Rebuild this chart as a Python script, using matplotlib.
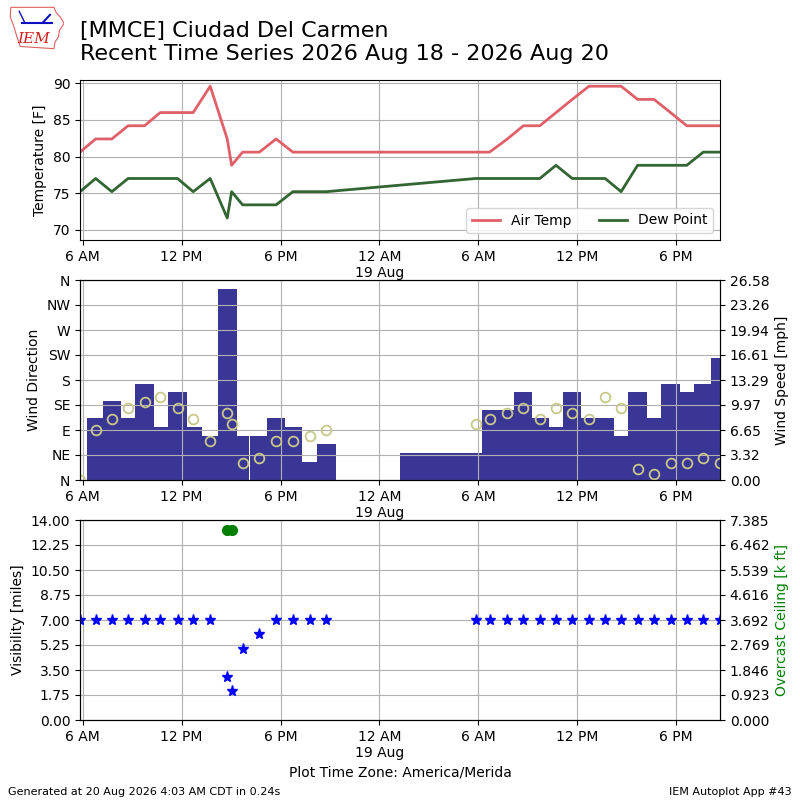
import numpy as np
import pandas as pd
import matplotlib
matplotlib.use("Agg")
import matplotlib.pyplot as plt
import matplotlib.dates as mdates
from matplotlib.patches import Polygon
from matplotlib.ticker import FuncFormatter, FormatStrFormatter

# observation times, local time America/Merida
valid = pd.to_datetime([
    "2026-08-18 05:50", "2026-08-18 06:47", "2026-08-18 07:46", "2026-08-18 08:45",
    "2026-08-18 09:45", "2026-08-18 10:42", "2026-08-18 11:45", "2026-08-18 12:42",
    "2026-08-18 13:44", "2026-08-18 14:46", "2026-08-18 15:02", "2026-08-18 15:42",
    "2026-08-18 16:43", "2026-08-18 17:44", "2026-08-18 18:45", "2026-08-18 19:46",
    "2026-08-18 20:47",
    "2026-08-19 05:50", "2026-08-19 06:41", "2026-08-19 07:46", "2026-08-19 08:44",
    "2026-08-19 09:44", "2026-08-19 10:43", "2026-08-19 11:42", "2026-08-19 12:43",
    "2026-08-19 13:42", "2026-08-19 14:40", "2026-08-19 15:40", "2026-08-19 16:40",
    "2026-08-19 17:40", "2026-08-19 18:39", "2026-08-19 19:39", "2026-08-19 20:40",
])
tmpf = [80.6, 82.4, 82.4, 84.2, 84.2, 86.0, 86.0, 86.0, 89.6, 82.4, 78.8, 80.6,
        80.6, 82.4, 80.6, 80.6, 80.6,
        80.6, 80.6, 82.4, 84.2, 84.2, 86.0, 87.8, 89.6, 89.6, 89.6, 87.8, 87.8,
        86.0, 84.2, 84.2, 84.2]
dwpf = [75.2, 77.0, 75.2, 77.0, 77.0, 77.0, 77.0, 75.2, 77.0, 71.6, 75.2, 73.4,
        73.4, 73.4, 75.2, 75.2, 75.2,
        77.0, 77.0, 77.0, 77.0, 77.0, 78.8, 77.0, 77.0, 77.0, 75.2, 78.8, 78.8,
        78.8, 78.8, 80.6, 80.6]
drct = [0, 90, 110, 130, 140, 150, 130, 110, 70, 120, 100, 30, 40, 70, 70, 80, 90,
        100, 110, 120, 130, 110, 130, 120, 110, 150, 130, 20, 10, 30, 30, 40, 30]
sknt = [0, 7, 9, 7, 11, 6, 10, 6, 5, 22, 15, 5, 5, 7, 6, 2, 4,
        3, 8, 8, 10, 7, 6, 10, 7, 7, 5, 10, 7, 11, 10, 11, 14]
vsby = [7, 7, 7, 7, 7, 7, 7, 7, 7, 3, 2, 5, 6, 7, 7, 7, 7,
        7, 7, 7, 7, 7, 7, 7, 7, 7, 7, 7, 7, 7, 7, 7, 7]
ceil_valid = pd.to_datetime(["2026-08-18 14:46", "2026-08-18 15:02"])
ceil_kft = [7.0, 7.0]

dir_labels = ["N", "NE", "E", "SE", "S", "SW", "W", "NW", "N"]

x = mdates.date2num(valid)
smph = np.array(sknt) * 1.15078
xticks = mdates.date2num(pd.date_range("2026-08-18 06:00", "2026-08-19 18:00", freq="6h"))


def fmt_time(v, pos=None):
    d = mdates.num2date(v)
    hr = d.hour % 12
    if hr == 0:
        hr = 12
    s = "%d %s" % (hr, "AM" if d.hour < 12 else "PM")
    if d.hour == 0:
        s += "\n" + d.strftime("%d %b")
    return s


def setup_x(ax):
    ax.set_xlim(x[0], x[-1])
    ax.set_xticks(xticks)
    ax.xaxis.set_major_formatter(FuncFormatter(fmt_time))
    ax.grid(True)


fig = plt.figure(figsize=(8, 8), dpi=100)

# temperature
ax1 = fig.add_axes([0.1, 0.7, 0.8, 0.2])
ax1.plot(x, tmpf, color="#E0606A", lw=2, label="Air Temp")
ax1.plot(x, dwpf, color="#336633", lw=2, label="Dew Point")
ax1.set_ylim(68.6, 90.45)
ax1.set_ylabel("Temperature [F]")
setup_x(ax1)
ax1.legend(loc="lower right", ncol=2)

# wind, bar width = time since previous ob
ax2 = fig.add_axes([0.1, 0.4, 0.8, 0.25])
ax2b = ax2.twinx()
ax2b.bar(x[1:], smph[1:], width=np.diff(x), align="center", color="#3A3696",
         ec="#3A3696", lw=0.3, antialiased=False)
smax = smph.max() * 1.05
ax2b.set_ylim(0, smax)
ax2b.set_yticks(np.linspace(0, smax, 9))
ax2b.yaxis.set_major_formatter(FormatStrFormatter("%.2f"))
ax2b.set_ylabel("Wind Speed [mph]")
ax2.plot(x, drct, "o", mfc="none", mec="#C8C88A", mew=1.3, ms=7)
ax2.set_ylim(0, 360)
ax2.set_yticks(np.arange(0, 361, 45))
ax2.set_yticklabels(dir_labels)
ax2.set_ylabel("Wind Direction")
ax2.set_zorder(ax2b.get_zorder() + 1)
ax2.patch.set_visible(False)
setup_x(ax2)

# visibility and ceiling
ax3 = fig.add_axes([0.1, 0.1, 0.8, 0.25])
ax3b = ax3.twinx()
ax3.plot(x, vsby, "*", color="b", ms=8)
ax3.set_ylim(0, 14)
ax3.set_yticks(np.linspace(0, 14, 9))
ax3.yaxis.set_major_formatter(FormatStrFormatter("%.2f"))
ax3.set_ylabel("Visibility [miles]")
ax3b.plot(mdates.date2num(ceil_valid), ceil_kft, "o", color="g", ms=7)
ax3b.set_ylim(0, 7.385)
ax3b.set_yticks(np.linspace(0, 7.385, 9))
ax3b.yaxis.set_major_formatter(FormatStrFormatter("%.3f"))
ax3b.set_ylabel("Overcast Ceiling [k ft]", color="g")
ax3.set_zorder(ax3b.get_zorder() + 1)
ax3.patch.set_visible(False)
setup_x(ax3)
ax3.set_xlabel("Plot Time Zone: America/Merida")

# header and footer
fig.text(0.1, 0.974, "[MMCE] Ciudad Del Carmen\nRecent Time Series 2026 Aug 18 - 2026 Aug 20",
         fontsize=16, va="top")
fig.text(0.01, 0.006, "Generated at 20 Aug 2026 4:03 AM CDT in 0.24s", fontsize=8)
fig.text(0.99, 0.006, "IEM Autoplot App #43", fontsize=8, ha="right")

# rough IEM logo
lax = fig.add_axes([0.01, 0.9375, 0.07, 0.055])
lax.set_xlim(0, 1)
lax.set_ylim(0, 1)
lax.axis("off")
iowa = [(0.05, 0.97), (0.82, 0.97), (0.86, 0.85), (0.94, 0.74), (1.0, 0.6),
        (0.92, 0.45), (0.9, 0.3), (0.84, 0.18), (0.82, 0.03), (0.22, 0.08),
        (0.16, 0.3), (0.1, 0.55), (0.04, 0.75)]
lax.add_patch(Polygon(iowa, closed=True, fill=False, ec="#E06060", lw=0.8))
lax.plot([0.25, 0.78], [0.62, 0.62], color="#1010C0", lw=1.5)
lax.plot([0.3, 0.2], [0.62, 0.88], color="#1010C0", lw=1)
lax.plot([0.62, 0.75], [0.62, 0.8], color="#1010C0", lw=1.5)
lax.text(0.45, 0.24, "IEM", color="#D02020", fontsize=11, style="italic",
         family="DejaVu Serif", ha="center", va="center")

fig.savefig("out.png", dpi=100)
